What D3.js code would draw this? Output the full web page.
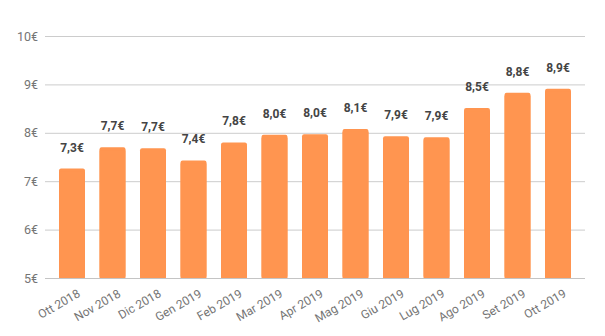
<!DOCTYPE html>
<html>
<head>
<meta charset="utf-8">
<script src="https://cdn.jsdelivr.net/npm/d3@7"></script>
<style>
  html, body { margin: 0; padding: 0; background: #fff; }
  svg { display: block; }
  svg text { font-family: Roboto, "Noto Sans", sans-serif; }
</style>
</head>
<body>
<svg id="chart" width="605" height="336"></svg>
<script>
// Monthly price, October 2018 – October 2019
const months = ["Ott 2018", "Nov 2018", "Dic 2018", "Gen 2019", "Feb 2019", "Mar 2019", "Apr 2019",
                "Mag 2019", "Giu 2019", "Lug 2019", "Ago 2019", "Set 2019", "Ott 2019"];
const prices = [7.26, 7.70, 7.68, 7.43, 7.80, 7.96, 7.97, 8.08, 7.93, 7.91, 8.51, 8.83, 8.91];
const yTicks = [5, 6, 7, 8, 9, 10];

const svg = d3.select("#chart");
const gridLeft = 45, gridRight = 585, plotTop = 36, plotBottom = 278;
const font = "Roboto, 'Noto Sans', sans-serif";

const x = d3.scaleBand()
  .domain(months)
  .range([51.75, 578.25])
  .paddingInner(0.36)
  .paddingOuter(0.18);

const y = d3.scaleLinear().domain([5, 10]).range([plotBottom, plotTop]);

const euro = v => v.toFixed(1).replace(".", ",") + "€";

// horizontal gridlines with euro labels
const yAxis = svg.append("g")
  .attr("transform", `translate(${gridLeft},0)`)
  .call(d3.axisLeft(y).tickValues(yTicks).tickFormat(d => d + "€").tickSize(-(gridRight - gridLeft)).tickPadding(7))
  .attr("font-family", font)
  .attr("font-size", 12.5);
yAxis.select(".domain").remove();
yAxis.selectAll(".tick line").attr("stroke", "#cccccc");
yAxis.selectAll(".tick text").attr("fill", "#757575");

// bars: rounded top, square bottom
const bars = svg.append("g");
bars.selectAll("rect.top")
  .data(prices)
  .join("rect")
  .attr("class", "top")
  .attr("x", (d, i) => x(months[i]))
  .attr("y", d => y(d))
  .attr("width", x.bandwidth())
  .attr("height", d => y(5) - y(d))
  .attr("rx", 2)
  .attr("fill", "#ff9550");
bars.selectAll("rect.body")
  .data(prices)
  .join("rect")
  .attr("class", "body")
  .attr("x", (d, i) => x(months[i]))
  .attr("y", d => y(d) + 3)
  .attr("width", x.bandwidth())
  .attr("height", d => y(5) - y(d) - 3)
  .attr("fill", "#ff9550");

// baseline
svg.append("line")
  .attr("x1", gridLeft).attr("x2", gridRight)
  .attr("y1", y(5) + 0.5).attr("y2", y(5) + 0.5)
  .attr("stroke", "#c4c4c4");

// value labels
svg.append("g").selectAll("text")
  .data(prices)
  .join("text")
  .attr("x", (d, i) => x(months[i]) + x.bandwidth() / 2)
  .attr("y", d => y(d) - 17)
  .attr("text-anchor", "middle")
  .attr("fill", "#444")
  .style("font-size", "12px")
  .style("font-weight", "bold")
  .text(d => euro(d));

// rotated month labels
const xAxis = svg.append("g")
  .attr("transform", `translate(0,${plotBottom})`)
  .call(d3.axisBottom(x).tickSize(0).tickPadding(0))
  .attr("font-family", font)
  .attr("font-size", 12);
xAxis.select(".domain").remove();
xAxis.selectAll(".tick text")
  .attr("fill", "#757575")
  .attr("text-anchor", "end")
  .attr("dy", 0)
  .attr("transform", "translate(9,18) rotate(-30)");
</script>
</body>
</html>
